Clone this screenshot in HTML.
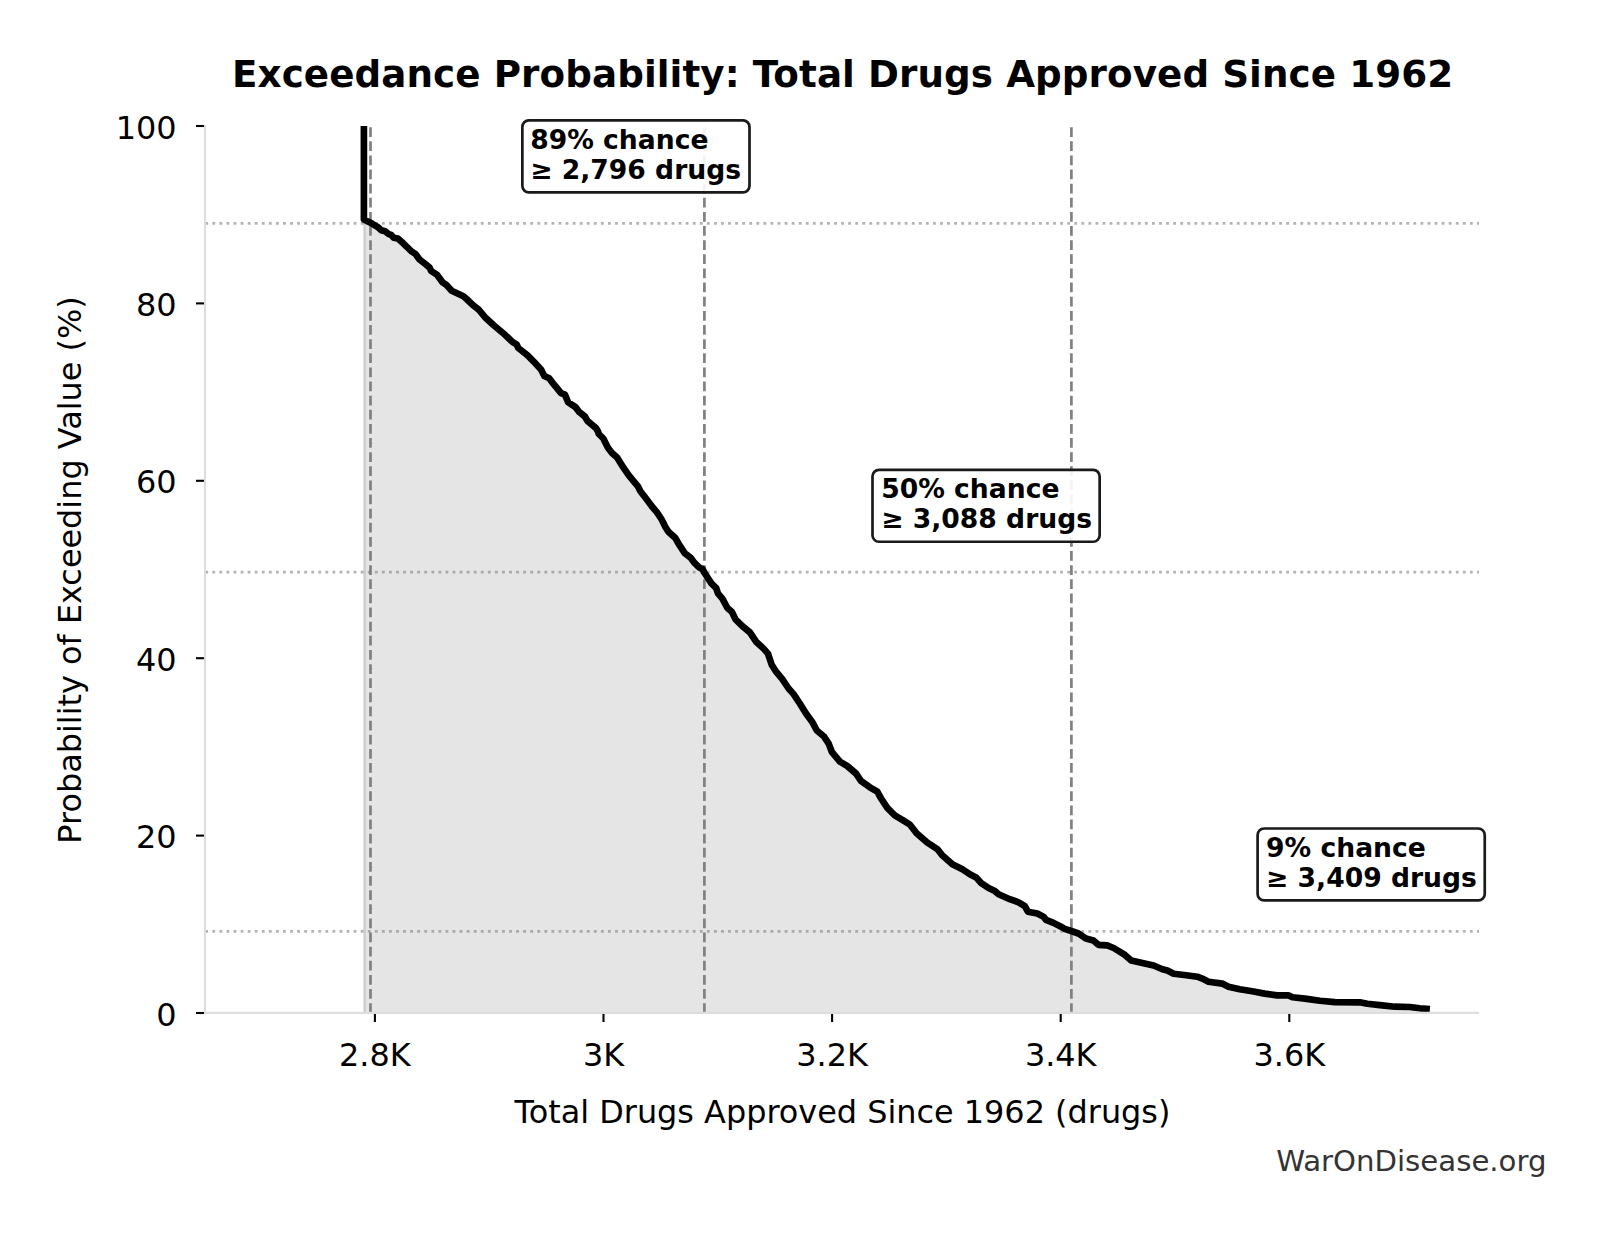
<!DOCTYPE html>
<html><head><meta charset="utf-8"><title>Exceedance Probability: Total Drugs Approved Since 1962</title>
<style>
html,body{margin:0;padding:0;background:#fff;}
body{width:1604px;height:1234px;overflow:hidden;}
svg{display:block;}
text{font-family:"DejaVu Sans","Liberation Sans",sans-serif;fill:#000;}
.title{font-weight:bold;font-size:37.25px;letter-spacing:0.085px;}
.lab{font-size:31.9px;}
.tk{font-size:31.9px;}
.ann{font-weight:bold;font-size:26.6px;}
.wm{font-size:29.2px;fill:#333;}
</style></head>
<body>
<svg width="1604" height="1234" viewBox="0 0 1604 1234">
<rect width="1604" height="1234" fill="#fff"/>
<clipPath id="ax"><rect x="205.3" y="126" width="1273.7" height="887"/></clipPath>
<g clip-path="url(#ax)">
<path d="M363.4,219.6 L372.0,223.6 L378.2,227.3 L381.1,230.2 L385.2,231.3 L388.2,233.8 L391.2,234.8 L393.6,237.7 L397.9,238.6 L403.2,243.3 L407.9,247.8 L411.3,251.3 L415.5,254.0 L419.7,259.7 L424.5,263.3 L429.6,267.6 L431.2,271.0 L437.0,274.8 L442.5,282.2 L446.5,284.9 L451.7,290.7 L463.4,296.2 L466.6,299.0 L472.4,304.7 L478.7,309.7 L485.0,317.2 L493.7,325.3 L505.0,334.8 L512.7,342.1 L516.5,344.3 L518.3,348.0 L527.6,355.4 L533.7,361.6 L541.2,369.7 L544.3,375.9 L549.2,378.3 L553.1,383.5 L556.2,387.2 L561.0,393.2 L565.0,394.7 L568.1,402.2 L575.5,407.1 L579.4,412.2 L584.9,416.5 L587.4,420.9 L596.0,428.1 L598.0,431.4 L598.8,434.0 L603.3,438.5 L607.8,447.4 L612.0,452.9 L617.1,457.4 L623.3,467.4 L628.8,475.3 L637.9,486.3 L640.4,491.3 L644.7,496.8 L652.2,506.8 L656.6,511.9 L661.4,519.0 L665.4,526.9 L668.4,531.7 L675.3,538.0 L679.8,545.7 L684.7,553.1 L690.5,557.6 L694.5,562.9 L698.8,567.2 L702.8,569.3 L704.3,572.5 L711.2,583.1 L716.2,588.1 L718.1,593.7 L722.4,598.7 L727.4,608.0 L731.8,611.8 L735.5,619.3 L742.4,626.1 L749.9,632.4 L756.1,641.7 L763.6,648.6 L768.0,653.6 L771.7,664.8 L776.1,671.7 L782.3,679.2 L788.6,688.5 L793.6,694.1 L799.8,703.5 L806.2,713.7 L812.5,722.4 L816.8,730.5 L823.7,736.2 L828.7,743.6 L831.8,751.8 L839.9,761.7 L847.4,766.1 L856.1,773.6 L861.1,781.1 L869.9,787.3 L877.3,791.7 L881.1,798.5 L887.3,807.9 L894.8,815.4 L902.3,819.8 L909.8,824.5 L916.6,833.2 L927.2,842.5 L937.5,849.3 L942.5,855.6 L952.4,864.3 L962.4,869.3 L969.9,874.3 L976.1,877.4 L981.1,883.0 L988.6,888.0 L994.9,891.1 L998.6,894.2 L1009.8,899.2 L1018.6,902.3 L1024.8,906.1 L1027.9,911.7 L1037.3,913.6 L1043.5,916.7 L1046.0,919.8 L1053.5,922.9 L1061.0,926.7 L1064.7,928.8 L1071.3,931.0 L1078.5,933.5 L1085.9,938.5 L1093.4,940.4 L1098.4,944.8 L1107.1,945.4 L1113.7,948.0 L1124.9,954.9 L1131.2,960.5 L1142.4,963.0 L1153.6,965.5 L1162.4,969.2 L1167.4,970.5 L1173.6,973.8 L1186.1,975.2 L1197.3,976.7 L1202.3,978.6 L1208.5,981.7 L1222.3,983.6 L1228.5,986.7 L1239.7,989.2 L1252.2,991.3 L1264.7,993.6 L1277.1,995.4 L1280.0,995.4 L1288.7,995.4 L1292.5,997.3 L1305.0,998.6 L1319.9,1000.8 L1334.9,1002.1 L1359.9,1002.3 L1367.3,1003.8 L1379.8,1005.1 L1394.8,1006.7 L1409.8,1007.0 L1419.7,1008.3 L1426.6,1008.8 L1426.6,1013.0 L363.4,1013.0Z" fill="#000" fill-opacity="0.1"/>
<line x1="364.65" y1="220" x2="364.65" y2="1013" stroke="#000" stroke-opacity="0.1" stroke-width="2.5"/>
<g stroke="#808080" stroke-width="2.7" stroke-dasharray="9.75 4.38">
<line x1="370.5" y1="1013" x2="370.5" y2="126"/>
<line x1="704.4" y1="1013" x2="704.4" y2="126"/>
<line x1="1071.4" y1="1013" x2="1071.4" y2="126"/>
</g>
<g stroke="#808080" stroke-opacity="0.6" stroke-width="2.7" stroke-dasharray="2.8 4.265">
<line x1="205.3" y1="223.4" x2="1479" y2="223.4"/>
<line x1="205.3" y1="572.2" x2="1479" y2="572.2"/>
<line x1="205.3" y1="931.3" x2="1479" y2="931.3"/>
</g>
<path d="M363.9,122.0 L363.9,219.6 L372.0,223.6 L378.2,227.3 L381.1,230.2 L385.2,231.3 L388.2,233.8 L391.2,234.8 L393.6,237.7 L397.9,238.6 L403.2,243.3 L407.9,247.8 L411.3,251.3 L415.5,254.0 L419.7,259.7 L424.5,263.3 L429.6,267.6 L431.2,271.0 L437.0,274.8 L442.5,282.2 L446.5,284.9 L451.7,290.7 L463.4,296.2 L466.6,299.0 L472.4,304.7 L478.7,309.7 L485.0,317.2 L493.7,325.3 L505.0,334.8 L512.7,342.1 L516.5,344.3 L518.3,348.0 L527.6,355.4 L533.7,361.6 L541.2,369.7 L544.3,375.9 L549.2,378.3 L553.1,383.5 L556.2,387.2 L561.0,393.2 L565.0,394.7 L568.1,402.2 L575.5,407.1 L579.4,412.2 L584.9,416.5 L587.4,420.9 L596.0,428.1 L598.0,431.4 L598.8,434.0 L603.3,438.5 L607.8,447.4 L612.0,452.9 L617.1,457.4 L623.3,467.4 L628.8,475.3 L637.9,486.3 L640.4,491.3 L644.7,496.8 L652.2,506.8 L656.6,511.9 L661.4,519.0 L665.4,526.9 L668.4,531.7 L675.3,538.0 L679.8,545.7 L684.7,553.1 L690.5,557.6 L694.5,562.9 L698.8,567.2 L702.8,569.3 L704.3,572.5 L711.2,583.1 L716.2,588.1 L718.1,593.7 L722.4,598.7 L727.4,608.0 L731.8,611.8 L735.5,619.3 L742.4,626.1 L749.9,632.4 L756.1,641.7 L763.6,648.6 L768.0,653.6 L771.7,664.8 L776.1,671.7 L782.3,679.2 L788.6,688.5 L793.6,694.1 L799.8,703.5 L806.2,713.7 L812.5,722.4 L816.8,730.5 L823.7,736.2 L828.7,743.6 L831.8,751.8 L839.9,761.7 L847.4,766.1 L856.1,773.6 L861.1,781.1 L869.9,787.3 L877.3,791.7 L881.1,798.5 L887.3,807.9 L894.8,815.4 L902.3,819.8 L909.8,824.5 L916.6,833.2 L927.2,842.5 L937.5,849.3 L942.5,855.6 L952.4,864.3 L962.4,869.3 L969.9,874.3 L976.1,877.4 L981.1,883.0 L988.6,888.0 L994.9,891.1 L998.6,894.2 L1009.8,899.2 L1018.6,902.3 L1024.8,906.1 L1027.9,911.7 L1037.3,913.6 L1043.5,916.7 L1046.0,919.8 L1053.5,922.9 L1061.0,926.7 L1064.7,928.8 L1071.3,931.0 L1078.5,933.5 L1085.9,938.5 L1093.4,940.4 L1098.4,944.8 L1107.1,945.4 L1113.7,948.0 L1124.9,954.9 L1131.2,960.5 L1142.4,963.0 L1153.6,965.5 L1162.4,969.2 L1167.4,970.5 L1173.6,973.8 L1186.1,975.2 L1197.3,976.7 L1202.3,978.6 L1208.5,981.7 L1222.3,983.6 L1228.5,986.7 L1239.7,989.2 L1252.2,991.3 L1264.7,993.6 L1277.1,995.4 L1280.0,995.4 L1288.7,995.4 L1292.5,997.3 L1305.0,998.6 L1319.9,1000.8 L1334.9,1002.1 L1359.9,1002.3 L1367.3,1003.8 L1379.8,1005.1 L1394.8,1006.7 L1409.8,1007.0 L1419.7,1008.3 L1426.6,1008.8" fill="none" stroke="#000" stroke-width="6.67" stroke-linejoin="round" stroke-linecap="square"/>
</g>
<line x1="196" y1="1013" x2="205.3" y2="1013" stroke="#000" stroke-width="2.1"/><text x="176.5" y="1025.6" text-anchor="end" class="tk">0</text>
<line x1="196" y1="835.6" x2="205.3" y2="835.6" stroke="#000" stroke-width="2.1"/><text x="176.5" y="848.2" text-anchor="end" class="tk">20</text>
<line x1="196" y1="658.2" x2="205.3" y2="658.2" stroke="#000" stroke-width="2.1"/><text x="176.5" y="670.8" text-anchor="end" class="tk">40</text>
<line x1="196" y1="480.8" x2="205.3" y2="480.8" stroke="#000" stroke-width="2.1"/><text x="176.5" y="493.4" text-anchor="end" class="tk">60</text>
<line x1="196" y1="303.4" x2="205.3" y2="303.4" stroke="#000" stroke-width="2.1"/><text x="176.5" y="316.0" text-anchor="end" class="tk">80</text>
<line x1="196" y1="126" x2="205.3" y2="126" stroke="#000" stroke-width="2.1"/><text x="176.5" y="138.6" text-anchor="end" class="tk">100</text>
<line x1="374.9" y1="1013" x2="374.9" y2="1022" stroke="#000" stroke-width="2.1"/><text x="374.9" y="1066" text-anchor="middle" class="tk">2.8K</text>
<line x1="603.5" y1="1013" x2="603.5" y2="1022" stroke="#000" stroke-width="2.1"/><text x="603.5" y="1066" text-anchor="middle" class="tk">3K</text>
<line x1="832.1" y1="1013" x2="832.1" y2="1022" stroke="#000" stroke-width="2.1"/><text x="832.1" y="1066" text-anchor="middle" class="tk">3.2K</text>
<line x1="1060.7" y1="1013" x2="1060.7" y2="1022" stroke="#000" stroke-width="2.1"/><text x="1060.7" y="1066" text-anchor="middle" class="tk">3.4K</text>
<line x1="1289.3" y1="1013" x2="1289.3" y2="1022" stroke="#000" stroke-width="2.1"/><text x="1289.3" y="1066" text-anchor="middle" class="tk">3.6K</text>

<line x1="205" y1="125" x2="205" y2="1014" stroke="#dddddd" stroke-width="2.1"/>
<line x1="204" y1="1012.9" x2="1479" y2="1012.9" stroke="#dddddd" stroke-width="2.1"/>
<rect x="522.35" y="120.4" width="227.15" height="71.95" rx="6.5" ry="6.5" fill="#fff" fill-opacity="0.9" stroke="#1a1a1a" stroke-width="2.7"/>
<text x="530.2" y="148.7" class="ann">89% chance</text><text x="530.2" y="179.0" class="ann">≥ 2,796 drugs</text>
<rect x="872.5" y="469.8" width="227.15" height="71.95" rx="6.5" ry="6.5" fill="#fff" fill-opacity="0.9" stroke="#1a1a1a" stroke-width="2.7"/>
<text x="881.2" y="497.5" class="ann">50% chance</text><text x="881.2" y="527.8" class="ann">≥ 3,088 drugs</text>
<rect x="1257.6" y="828.5" width="227.15" height="71.95" rx="6.5" ry="6.5" fill="#fff" fill-opacity="0.9" stroke="#1a1a1a" stroke-width="2.7"/>
<text x="1266.05" y="856.8" class="ann">9% chance</text><text x="1266.05" y="887.1" class="ann">≥ 3,409 drugs</text>
<text x="842.6" y="87" text-anchor="middle" class="title">Exceedance Probability: Total Drugs Approved Since 1962</text>
<text x="842.5" y="1122.8" text-anchor="middle" class="lab">Total Drugs Approved Since 1962 (drugs)</text>
<text transform="translate(81,570) rotate(-90)" text-anchor="middle" class="lab">Probability of Exceeding Value (%)</text>
<text x="1546.5" y="1171" text-anchor="end" class="wm">WarOnDisease.org</text>
</svg>
</body></html>
